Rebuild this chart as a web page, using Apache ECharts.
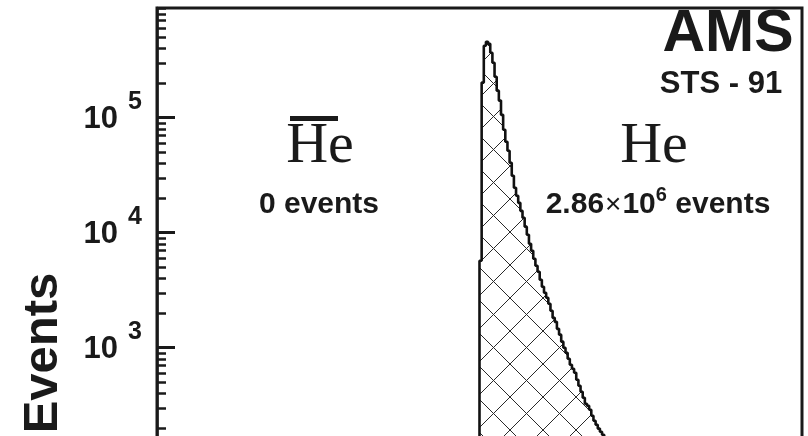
<!DOCTYPE html>
<html>
<head>
<meta charset="utf-8">
<script src="https://cdn.jsdelivr.net/npm/echarts@6/dist/echarts.min.js"></script>
<style>
  html, body { margin: 0; padding: 0; background: #fff; }
  #chart { width: 808px; height: 436px; }
</style>
</head>
<body>
<div id="chart"></div>
<script>
// bin width in 1/R units, bins start at 0 (positive side = He)
const binWidth = 0.01
const heCounts = [
  5700, 202000, 423000, 458000, 440000, 367000, 301000, 227000, 172000, 141000,
  106000, 78600, 61800, 51600, 40600, 31300, 24600, 21000, 18200, 15500,
  13500, 11300, 9600, 8020, 6970, 5940, 5160, 4580, 3900, 3390,
  3010, 2720, 2410, 2100, 1820, 1680, 1460, 1300, 1130, 1000,
  904, 802, 711, 657, 606, 527, 467, 414, 367, 326,
  313, 289, 256, 232, 214, 198, 186, 175, 162, 148, 137
]
const majorExp = [2, 3, 4, 5]
const minorVals = [
  200, 300, 400, 500, 600, 700, 800, 900,
  2000, 3000, 4000, 5000, 6000, 7000, 8000, 9000,
  20000, 30000, 40000, 50000, 60000, 70000, 80000, 90000,
  200000, 300000, 400000, 500000, 600000, 700000, 800000, 900000
]
const yMin = 10
const yMax = 9e5
const xMin = -1.5
const xMax = 1.5

const ink = '#1a1a1a'
const sans = 'Liberation Sans, Arial, sans-serif'
const serif = 'Liberation Serif, Times New Roman, serif'

// cross hatch tile
const hatch = document.createElement('canvas')
hatch.width = 33
hatch.height = 33
const hctx = hatch.getContext('2d')
hctx.strokeStyle = '#2a2a2a'
hctx.lineWidth = 1
hctx.beginPath()
hctx.moveTo(-1, -1); hctx.lineTo(34, 34)
hctx.moveTo(34, -1); hctx.lineTo(-1, 34)
hctx.stroke()

// histogram outline: floor point then right edges of bins (step start)
const histData = [[0, yMin]].concat(heCounts.map((c, i) => [(i + 1) * binWidth, c]))

// the frame runs below the visible area, one decade = 115px
const decadePx = 115
const gridTop = 8
const gridHeight = decadePx * (Math.log10(yMax) - Math.log10(yMin))

const chart = echarts.init(document.getElementById('chart'), null, { renderer: 'canvas' })

chart.setOption({
  animation: false,
  grid: {
    left: 157,
    width: 645,
    top: gridTop,
    height: gridHeight,
    outerBoundsMode: 'none',
    containLabel: false,
    show: true,
    borderColor: ink,
    borderWidth: 3
  },
  xAxis: {
    type: 'value',
    min: xMin,
    max: xMax,
    show: false
  },
  yAxis: [
    {
      type: 'log',
      min: yMin,
      max: yMax,
      position: 'left',
      show: false
    },
    {
      type: 'value',
      min: Math.log10(yMin),
      max: Math.log10(yMax),
      position: 'left',
      splitLine: { show: false },
      axisLine: { show: true, lineStyle: { color: ink, width: 2.5 } },
      axisTick: {
        show: true,
        inside: true,
        length: 18,
        customValues: majorExp,
        lineStyle: { color: ink, width: 3 }
      },
      axisLabel: {
        show: true,
        customValues: majorExp,
        margin: 15,
        padding: [4, 0, 0, 0],
        formatter: v => '{b|10}{s|' + v + '}',
        rich: {
          b: {
            fontFamily: sans, fontWeight: 'bold', fontSize: 31, lineHeight: 60,
            verticalAlign: 'middle', color: ink
          },
          s: {
            fontFamily: sans, fontWeight: 'bold', fontSize: 25, lineHeight: 12,
            padding: [0, 0, 0, 10], verticalAlign: 'top', color: ink
          }
        }
      }
    },
    {
      type: 'value',
      min: Math.log10(yMin),
      max: Math.log10(yMax),
      position: 'left',
      splitLine: { show: false },
      axisLine: { show: false },
      axisLabel: { show: false },
      axisTick: {
        show: true,
        inside: true,
        length: 9,
        customValues: minorVals.map(v => Math.log10(v)),
        lineStyle: { color: ink, width: 2.5 }
      }
    }
  ],
  series: [{
    name: 'He',
    type: 'line',
    yAxisIndex: 0,
    step: 'start',
    symbol: 'none',
    data: histData,
    lineStyle: { color: '#111', width: 2.6 },
    areaStyle: {
      origin: 'start',
      opacity: 1,
      color: { image: hatch, repeat: 'repeat', x: 15, y: 1 }
    }
  }],
  graphic: [
    {
      type: 'text', x: 43, y: 353, rotation: Math.PI / 2,
      style: { text: 'Events', fill: ink, font: 'bold 49px ' + sans, align: 'center', verticalAlign: 'middle' }
    },
    {
      type: 'text', x: 728, y: 35,
      style: { text: 'AMS', fill: ink, font: 'bold 59px ' + sans, align: 'center', verticalAlign: 'middle' }
    },
    {
      type: 'text', x: 721, y: 84,
      style: { text: 'STS - 91', fill: ink, font: 'bold 31px ' + sans, align: 'center', verticalAlign: 'middle' }
    },
    {
      type: 'text', x: 320, y: 147,
      style: { text: 'He', fill: ink, font: '58px ' + serif, align: 'center', verticalAlign: 'middle' }
    },
    {
      type: 'rect', shape: { x: 290, y: 116, width: 48, height: 5 },
      style: { fill: ink }
    },
    {
      type: 'text', x: 319, y: 205,
      style: { text: '0 events', fill: ink, font: 'bold 30px ' + sans, align: 'center', verticalAlign: 'middle' }
    },
    {
      type: 'text', x: 654, y: 147,
      style: { text: 'He', fill: ink, font: '58px ' + serif, align: 'center', verticalAlign: 'middle' }
    },
    {
      type: 'text', x: 658, y: 205,
      style: {
        text: '{t|2.86}{x|×}{t|10}{p|6}{t| events}',
        align: 'center',
        verticalAlign: 'middle',
        rich: {
          t: { fontFamily: sans, fontWeight: 'bold', fontSize: 30, lineHeight: 40, verticalAlign: 'middle', fill: ink },
          x: { fontFamily: sans, fontSize: 28, lineHeight: 40, padding: [0, 1, 0, 1], verticalAlign: 'middle', fill: ink },
          p: { fontFamily: sans, fontWeight: 'bold', fontSize: 20, lineHeight: 16, verticalAlign: 'top', fill: ink }
        }
      }
    }
  ]
})
</script>
</body>
</html>
